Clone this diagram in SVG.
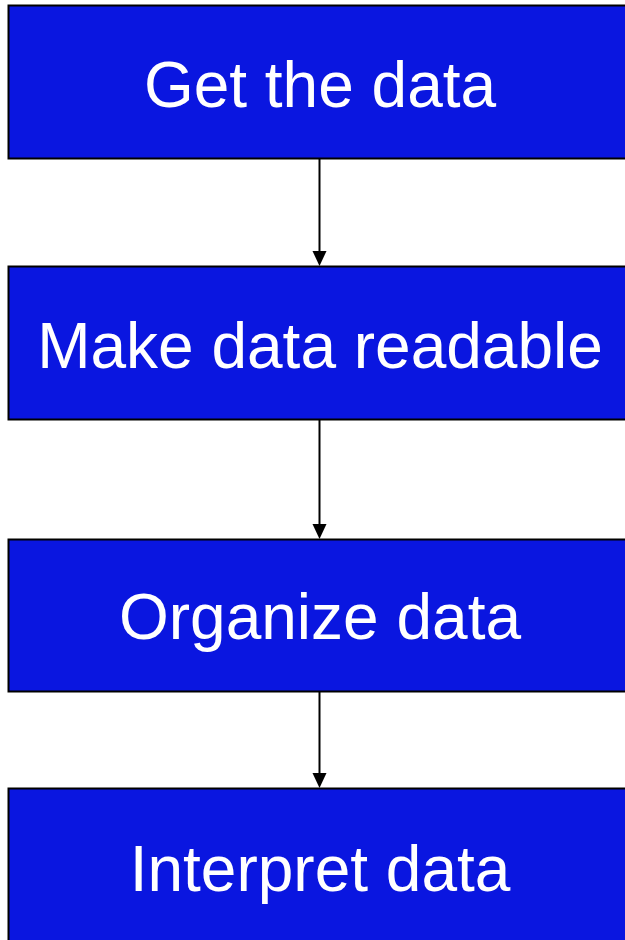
<svg xmlns="http://www.w3.org/2000/svg" width="625" height="940" viewBox="0 0 625 940">
<style>
.box{fill:#0a16e0;stroke:#000;stroke-width:2}
.lbl{fill:#fff;font-family:"Liberation Sans",Arial,sans-serif;font-size:64px;text-anchor:middle}
.conn{stroke:#000;stroke-width:2;fill:none}
.head{fill:#000}
</style>
<rect width="625" height="940" fill="#fff"/>
<g id="connectors">
<line class="conn" x1="319.5" y1="158" x2="319.5" y2="252"/>
<path class="head" d="M312.5,251 L326.5,251 L319.5,266 Z"/>
<line class="conn" x1="319.5" y1="419" x2="319.5" y2="525"/>
<path class="head" d="M312.5,524 L326.5,524 L319.5,539 Z"/>
<line class="conn" x1="319.5" y1="691" x2="319.5" y2="774"/>
<path class="head" d="M312.5,773 L326.5,773 L319.5,788 Z"/>
</g>
<g id="n1"><rect class="box" x="8.5" y="5.5" width="624" height="153"/><text class="lbl" x="320" y="107">Get the data</text></g>
<g id="n2"><rect class="box" x="8.5" y="266.5" width="624" height="153"/><text class="lbl" x="320" y="368">Make data readable</text></g>
<g id="n3"><rect class="box" x="8.5" y="539.5" width="624" height="152"/><text class="lbl" x="320" y="639">Organize data</text></g>
<g id="n4"><rect class="box" x="8.5" y="788.5" width="624" height="160"/><text class="lbl" x="320" y="891">Interpret data</text></g>
</svg>
